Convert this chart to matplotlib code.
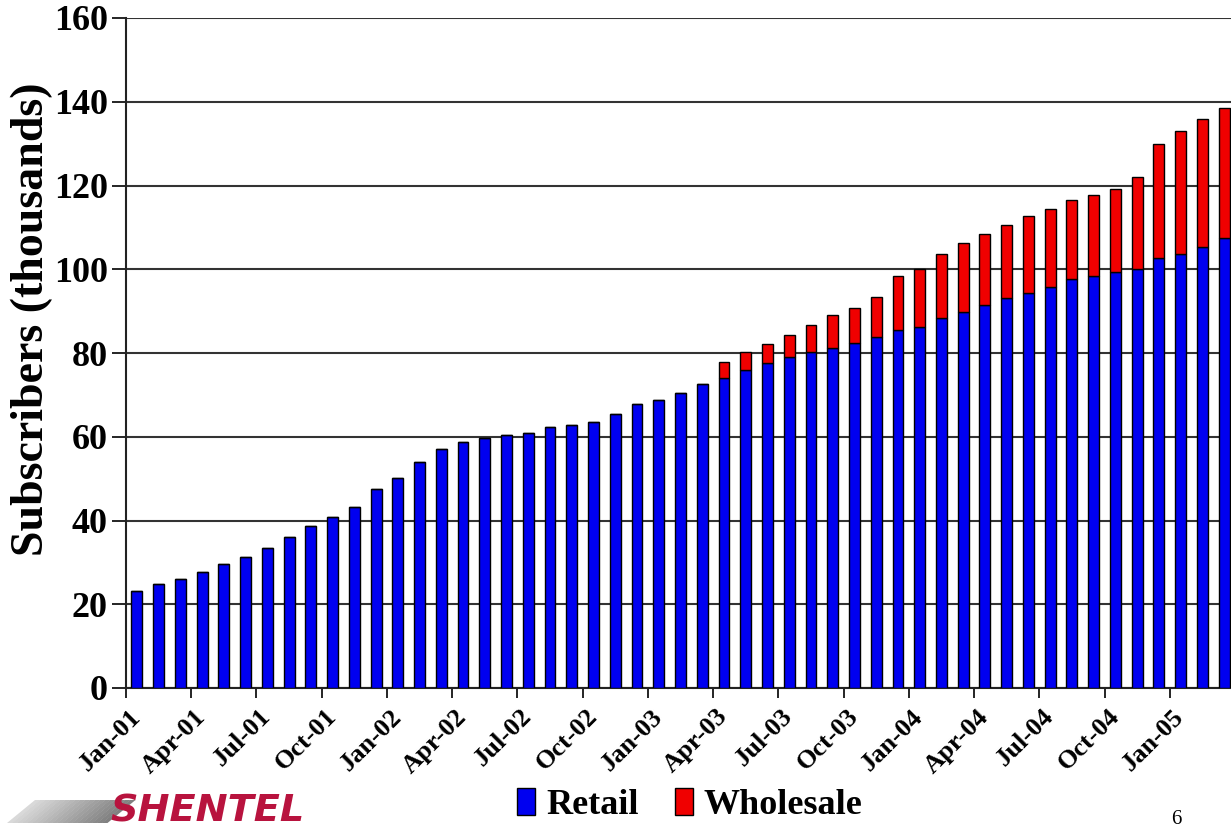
import matplotlib
matplotlib.use("Agg")
import matplotlib.pyplot as plt
from matplotlib.patches import Patch, Polygon
import numpy as np
import pandas as pd

# monthly subscriber counts, thousands
months = pd.date_range("2001-01", periods=51, freq="MS").strftime("%b-%y").tolist()
retail = [23.2, 24.8, 26.0, 27.8, 29.5, 31.3, 33.4, 36.0, 38.6, 40.8, 43.3, 47.6,
          50.2, 54.0, 57.1, 58.8, 59.8, 60.4, 61.0, 62.3, 62.7, 63.6, 65.4, 67.8,
          68.8, 70.5, 72.6, 74.1, 75.9, 77.6, 79.0, 80.3, 81.3, 82.3, 83.8, 85.5,
          86.3, 88.4, 89.9, 91.5, 93.2, 94.4, 95.8, 97.6, 98.5, 99.3, 100.1, 102.8,
          103.7, 105.4, 107.4]
wholesale = [0] * 27 + [3.7, 4.3, 4.5, 5.2, 6.5, 7.7, 8.4, 9.5, 12.9, 13.7, 15.2,
                        16.3, 16.8, 17.4, 18.3, 18.6, 18.9, 19.3, 19.9, 22.0, 27.1,
                        29.2, 30.5, 31.0]
yticks = [0, 20, 40, 60, 80, 100, 120, 140, 160]

SERIF = "Liberation Serif"
BLUE = "#0000f0"
RED = "#f00000"

W, H = 1231, 836
fig = plt.figure(figsize=(W / 100, H / 100), dpi=100)
fig.patch.set_facecolor("white")
ax = fig.add_axes([126 / W, 148 / H, 1109 / W, 670 / H])

x = np.arange(len(months))
ax.bar(x, retail, width=0.5, color=BLUE, edgecolor="black", linewidth=1.0, zorder=3)
ax.bar(x, wholesale, bottom=retail, width=0.5, color=RED, edgecolor="black",
       linewidth=1.0, zorder=3)

ax.set_xlim(-0.5, len(months) - 0.5)
ax.set_ylim(0, 160)
ax.set_yticks(yticks)
ax.set_yticklabels([str(v) for v in yticks], fontsize=26, fontweight="bold",
                   family=SERIF)
ax.yaxis.grid(True, color="#333333", linewidth=1.5, zorder=0)
ax.tick_params(axis="y", length=10, width=1.2, direction="out", pad=3)

# tick marks sit between categories, labels sit under every third bar
ax.set_xticks(np.arange(0, len(months) + 1, 3) - 0.5)
ax.set_xticklabels([])
ax.tick_params(axis="x", which="major", length=7, width=1.2, direction="out")
ax.set_xticks(x[::3], minor=True)
ax.set_xticklabels(months[::3], minor=True, rotation=45, ha="right",
                   va="center", rotation_mode="anchor", fontsize=19,
                   fontweight="bold", family=SERIF)
ax.tick_params(axis="x", which="minor", length=0, pad=18)

for side in ("top", "right"):
    ax.spines[side].set_visible(False)
for side in ("left", "bottom"):
    ax.spines[side].set_linewidth(1.5)
    ax.spines[side].set_color("#222222")

ax.set_ylabel("Subscribers (thousands)", fontsize=33, fontweight="bold",
              family=SERIF)
ax.yaxis.set_label_coords(-0.066, 0.55)

handles = [Patch(facecolor=BLUE, edgecolor="black", label="Retail"),
           Patch(facecolor=RED, edgecolor="black", label="Wholesale")]
fig.legend(handles=handles, loc="center", bbox_to_anchor=(690 / W, 1 - 805 / H),
           ncol=2, frameon=False, handlelength=0.5, handleheight=0.75,
           handletextpad=0.3, columnspacing=1.0,
           prop={"family": SERIF, "weight": "bold", "size": 26})

# company logo, bottom left: grey slanted stripe fading to the left
n_strips = 20
for i in range(n_strips):
    x0 = 7 + i * 5
    shade = 0.5 + 0.35 * (1 - i / (n_strips - 1))
    pts = [(x0, 823), (x0 + 5.5, 823), (x0 + 5.5 + 28, 800), (x0 + 28, 800)]
    fig.add_artist(Polygon([(px / W, 1 - py / H) for px, py in pts],
                           closed=True, transform=fig.transFigure,
                           facecolor=str(shade), edgecolor="none"))
fig.text(110 / W, 1 - 812 / H, "SHENTEL", fontsize=27.5, fontweight="heavy",
         fontstyle="italic", family="DejaVu Sans", color="#b8133e",
         ha="left", va="center")

fig.text(1176 / W, 1 - 820 / H, "6", fontsize=15, family=SERIF,
         ha="center", va="center")

fig.savefig("out.png", dpi=100, facecolor="white")
